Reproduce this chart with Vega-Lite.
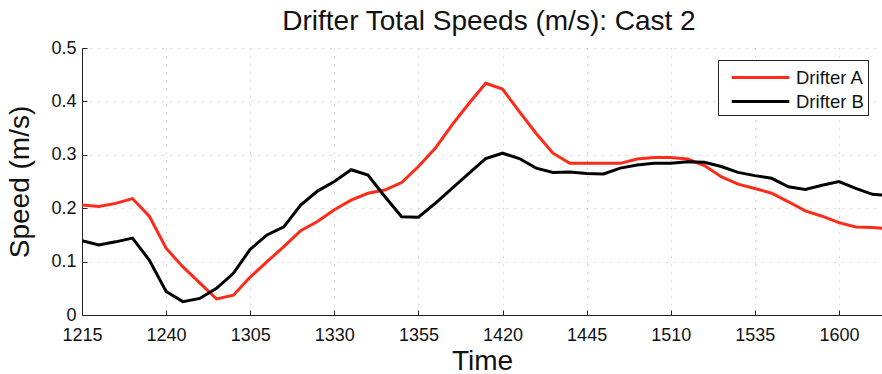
{
  "$schema": "https://vega.github.io/schema/vega-lite/v6.json",
  "width": 800,
  "height": 267,
  "autosize": {"type": "none"},
  "padding": {"left": 82, "top": 48, "right": 0, "bottom": 59},
  "background": "white",
  "config": {
    "view": {"stroke": null},
    "font": "Liberation Sans"
  },
  "title": {
    "text": "Drifter Total Speeds (m/s): Cast 2",
    "fontSize": 28,
    "fontWeight": "normal",
    "color": "#111",
    "anchor": "middle",
    "dx": 7,
    "offset": 3
  },
  "datasets": {
    "speeds": [
      {"time": 735, "speed": 0.206, "drifter": "Drifter A"},
      {"time": 740, "speed": 0.203, "drifter": "Drifter A"},
      {"time": 745, "speed": 0.209, "drifter": "Drifter A"},
      {"time": 750, "speed": 0.218, "drifter": "Drifter A"},
      {"time": 755, "speed": 0.185, "drifter": "Drifter A"},
      {"time": 760, "speed": 0.125, "drifter": "Drifter A"},
      {"time": 765, "speed": 0.090, "drifter": "Drifter A"},
      {"time": 770, "speed": 0.060, "drifter": "Drifter A"},
      {"time": 775, "speed": 0.030, "drifter": "Drifter A"},
      {"time": 780, "speed": 0.037, "drifter": "Drifter A"},
      {"time": 785, "speed": 0.071, "drifter": "Drifter A"},
      {"time": 790, "speed": 0.100, "drifter": "Drifter A"},
      {"time": 795, "speed": 0.128, "drifter": "Drifter A"},
      {"time": 800, "speed": 0.158, "drifter": "Drifter A"},
      {"time": 805, "speed": 0.175, "drifter": "Drifter A"},
      {"time": 810, "speed": 0.197, "drifter": "Drifter A"},
      {"time": 815, "speed": 0.215, "drifter": "Drifter A"},
      {"time": 820, "speed": 0.228, "drifter": "Drifter A"},
      {"time": 825, "speed": 0.234, "drifter": "Drifter A"},
      {"time": 830, "speed": 0.248, "drifter": "Drifter A"},
      {"time": 835, "speed": 0.278, "drifter": "Drifter A"},
      {"time": 840, "speed": 0.312, "drifter": "Drifter A"},
      {"time": 845, "speed": 0.356, "drifter": "Drifter A"},
      {"time": 850, "speed": 0.396, "drifter": "Drifter A"},
      {"time": 855, "speed": 0.434, "drifter": "Drifter A"},
      {"time": 860, "speed": 0.423, "drifter": "Drifter A"},
      {"time": 865, "speed": 0.381, "drifter": "Drifter A"},
      {"time": 870, "speed": 0.340, "drifter": "Drifter A"},
      {"time": 875, "speed": 0.303, "drifter": "Drifter A"},
      {"time": 880, "speed": 0.284, "drifter": "Drifter A"},
      {"time": 885, "speed": 0.284, "drifter": "Drifter A"},
      {"time": 890, "speed": 0.284, "drifter": "Drifter A"},
      {"time": 895, "speed": 0.284, "drifter": "Drifter A"},
      {"time": 900, "speed": 0.292, "drifter": "Drifter A"},
      {"time": 905, "speed": 0.295, "drifter": "Drifter A"},
      {"time": 910, "speed": 0.295, "drifter": "Drifter A"},
      {"time": 915, "speed": 0.292, "drifter": "Drifter A"},
      {"time": 920, "speed": 0.280, "drifter": "Drifter A"},
      {"time": 925, "speed": 0.259, "drifter": "Drifter A"},
      {"time": 930, "speed": 0.245, "drifter": "Drifter A"},
      {"time": 935, "speed": 0.237, "drifter": "Drifter A"},
      {"time": 940, "speed": 0.228, "drifter": "Drifter A"},
      {"time": 945, "speed": 0.212, "drifter": "Drifter A"},
      {"time": 950, "speed": 0.195, "drifter": "Drifter A"},
      {"time": 955, "speed": 0.185, "drifter": "Drifter A"},
      {"time": 960, "speed": 0.173, "drifter": "Drifter A"},
      {"time": 965, "speed": 0.165, "drifter": "Drifter A"},
      {"time": 970, "speed": 0.164, "drifter": "Drifter A"},
      {"time": 975, "speed": 0.161, "drifter": "Drifter A"},
      {"time": 735, "speed": 0.139, "drifter": "Drifter B"},
      {"time": 740, "speed": 0.131, "drifter": "Drifter B"},
      {"time": 745, "speed": 0.137, "drifter": "Drifter B"},
      {"time": 750, "speed": 0.144, "drifter": "Drifter B"},
      {"time": 755, "speed": 0.103, "drifter": "Drifter B"},
      {"time": 760, "speed": 0.044, "drifter": "Drifter B"},
      {"time": 765, "speed": 0.025, "drifter": "Drifter B"},
      {"time": 770, "speed": 0.031, "drifter": "Drifter B"},
      {"time": 775, "speed": 0.050, "drifter": "Drifter B"},
      {"time": 780, "speed": 0.078, "drifter": "Drifter B"},
      {"time": 785, "speed": 0.123, "drifter": "Drifter B"},
      {"time": 790, "speed": 0.150, "drifter": "Drifter B"},
      {"time": 795, "speed": 0.165, "drifter": "Drifter B"},
      {"time": 800, "speed": 0.206, "drifter": "Drifter B"},
      {"time": 805, "speed": 0.232, "drifter": "Drifter B"},
      {"time": 810, "speed": 0.250, "drifter": "Drifter B"},
      {"time": 815, "speed": 0.272, "drifter": "Drifter B"},
      {"time": 820, "speed": 0.262, "drifter": "Drifter B"},
      {"time": 825, "speed": 0.222, "drifter": "Drifter B"},
      {"time": 830, "speed": 0.184, "drifter": "Drifter B"},
      {"time": 835, "speed": 0.183, "drifter": "Drifter B"},
      {"time": 840, "speed": 0.209, "drifter": "Drifter B"},
      {"time": 845, "speed": 0.237, "drifter": "Drifter B"},
      {"time": 850, "speed": 0.265, "drifter": "Drifter B"},
      {"time": 855, "speed": 0.293, "drifter": "Drifter B"},
      {"time": 860, "speed": 0.303, "drifter": "Drifter B"},
      {"time": 865, "speed": 0.293, "drifter": "Drifter B"},
      {"time": 870, "speed": 0.275, "drifter": "Drifter B"},
      {"time": 875, "speed": 0.267, "drifter": "Drifter B"},
      {"time": 880, "speed": 0.268, "drifter": "Drifter B"},
      {"time": 885, "speed": 0.265, "drifter": "Drifter B"},
      {"time": 890, "speed": 0.264, "drifter": "Drifter B"},
      {"time": 895, "speed": 0.275, "drifter": "Drifter B"},
      {"time": 900, "speed": 0.281, "drifter": "Drifter B"},
      {"time": 905, "speed": 0.284, "drifter": "Drifter B"},
      {"time": 910, "speed": 0.284, "drifter": "Drifter B"},
      {"time": 915, "speed": 0.287, "drifter": "Drifter B"},
      {"time": 920, "speed": 0.286, "drifter": "Drifter B"},
      {"time": 925, "speed": 0.278, "drifter": "Drifter B"},
      {"time": 930, "speed": 0.267, "drifter": "Drifter B"},
      {"time": 935, "speed": 0.261, "drifter": "Drifter B"},
      {"time": 940, "speed": 0.256, "drifter": "Drifter B"},
      {"time": 945, "speed": 0.240, "drifter": "Drifter B"},
      {"time": 950, "speed": 0.235, "drifter": "Drifter B"},
      {"time": 955, "speed": 0.243, "drifter": "Drifter B"},
      {"time": 960, "speed": 0.250, "drifter": "Drifter B"},
      {"time": 965, "speed": 0.237, "drifter": "Drifter B"},
      {"time": 970, "speed": 0.226, "drifter": "Drifter B"},
      {"time": 975, "speed": 0.224, "drifter": "Drifter B"}
    ]
  },
  "layer": [
    {
      "mark": {"type": "rule", "color": "#222", "strokeWidth": 1},
      "encoding": {"y": {"datum": 0.5, "type": "quantitative"}}
    },
    {
      "data": {"name": "speeds"},
      "mark": {"type": "line", "strokeWidth": 3, "clip": true},
      "encoding": {
        "x": {
          "field": "time",
          "type": "quantitative",
          "scale": {"domain": [735, 972.8], "nice": false, "zero": false},
          "axis": {
            "title": "Time",
            "titleFontSize": 28,
            "titleFontWeight": "normal",
            "titleColor": "#111",
            "titlePadding": 3,
            "values": [735, 760, 785, 810, 835, 860, 885, 910, 935, 960],
            "labelExpr": "format(floor(datum.value / 60) * 100 + datum.value % 60, 'd')",
            "labelFlush": false,
            "labelFontSize": 18,
            "labelColor": "#111",
            "labelPadding": 16,
            "tickSize": -5,
            "tickColor": "#222",
            "domainColor": "#222",
            "grid": true,
            "gridColor": "#b5b5b5",
            "gridDash": [1, 7],
            "gridWidth": 1
          }
        },
        "y": {
          "field": "speed",
          "type": "quantitative",
          "scale": {"domain": [0, 0.5], "nice": false},
          "axis": {
            "title": "Speed (m/s)",
            "titleFontSize": 28,
            "titleFontWeight": "normal",
            "titleColor": "#111",
            "titlePadding": 16,
            "values": [0, 0.1, 0.2, 0.3, 0.4, 0.5],
            "format": "~g",
            "labelFlush": false,
            "labelFontSize": 18,
            "labelColor": "#111",
            "labelPadding": 11,
            "tickSize": -5,
            "tickColor": "#222",
            "domainColor": "#222",
            "grid": true,
            "gridColor": "#b5b5b5",
            "gridDash": [1, 7],
            "gridWidth": 1
          }
        },
        "color": {
          "field": "drifter",
          "type": "nominal",
          "scale": {"domain": ["Drifter A", "Drifter B"], "range": ["#ff2a18", "#000000"]},
          "legend": {
            "title": null,
            "orient": "none",
            "legendX": 636,
            "legendY": 12,
            "symbolType": "M-2.4,0H2.4",
            "symbolSize": 576,
            "symbolStrokeWidth": 3,
            "symbolOffset": 25,
            "labelFontSize": 18.5,
            "labelColor": "#111",
            "labelOffset": 22,
            "rowPadding": 1,
            "padding": 4,
            "strokeColor": "#222",
            "fillColor": "white"
          }
        }
      }
    }
  ]
}
